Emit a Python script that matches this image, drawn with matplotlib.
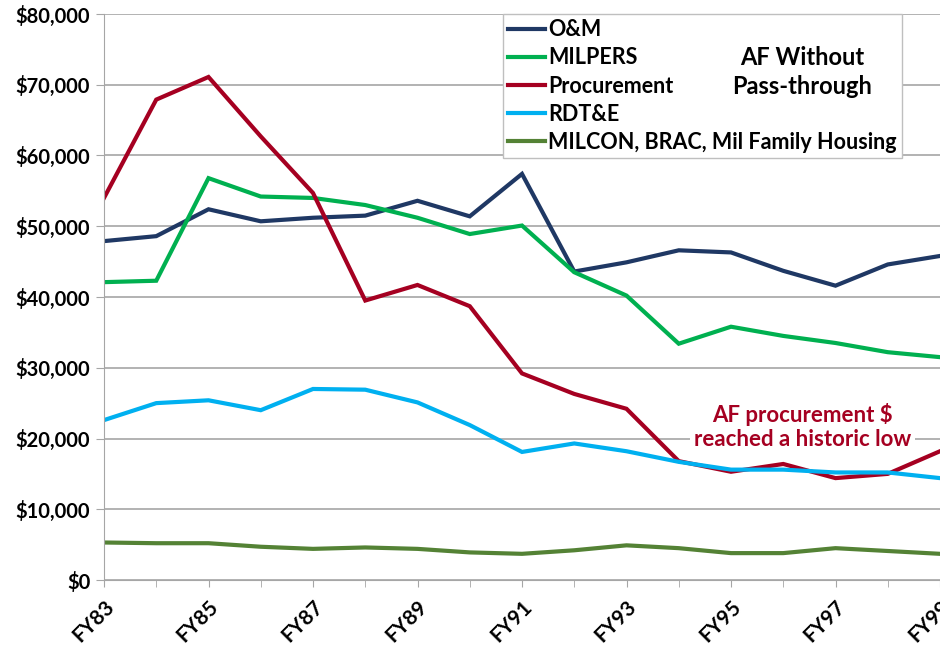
import matplotlib.pyplot as plt
import matplotlib.ticker as mticker

plt.rcParams['font.family'] = ['Lato', 'DejaVu Sans']
plt.rcParams['font.weight'] = 'bold'

# AF budget by appropriation, $M
years = ['FY83', 'FY84', 'FY85', 'FY86', 'FY87', 'FY88', 'FY89', 'FY90', 'FY91',
         'FY92', 'FY93', 'FY94', 'FY95', 'FY96', 'FY97', 'FY98', 'FY99']
om = [47900, 48600, 52400, 50700, 51200, 51500, 53600, 51400, 57400,
      43600, 44900, 46600, 46300, 43700, 41600, 44600, 45800]
milpers = [42100, 42300, 56800, 54200, 54000, 53000, 51200, 48900, 50100,
           43500, 40200, 33400, 35800, 34500, 33500, 32200, 31500]
procurement = [54000, 67900, 71100, 62700, 54700, 39500, 41700, 38700, 29200,
               26300, 24200, 16800, 15300, 16400, 14400, 15000, 18200]
rdte = [22600, 25000, 25400, 24000, 27000, 26900, 25100, 21900, 18100,
        19300, 18200, 16700, 15600, 15600, 15200, 15200, 14400]
milcon = [5300, 5200, 5200, 4700, 4400, 4600, 4400, 3900, 3700,
          4200, 4900, 4500, 3800, 3800, 4500, 4100, 3700]

series = [
    ('O&M', om, '#1F3864'),
    ('MILPERS', milpers, '#00B050'),
    ('Procurement', procurement, '#A50021'),
    ('RDT&E', rdte, '#00B0F0'),
    ('MILCON, BRAC, Mil Family Housing', milcon, '#548235'),
]

fig = plt.figure(figsize=(9.4, 6.51), dpi=100)
ax = fig.add_axes([104 / 940, 1 - 580 / 651, 836 / 940, 566 / 651])

x = list(range(len(years)))
for name, vals, col in series:
    ax.plot(x, vals, color=col, lw=3, label=name, solid_joinstyle='miter')

ax.set_xlim(0, 836 / 52.8)
ax.set_ylim(0, 80000)
ax.yaxis.set_major_locator(mticker.MultipleLocator(10000))
ax.yaxis.set_major_formatter(mticker.FuncFormatter(lambda v, p: '${:,.0f}'.format(v)))
ax.grid(axis='y', color='#A6A6A6', lw=1.2)
ax.set_axisbelow(True)

ax.set_xticks(x[::2])
ax.set_xticklabels(years[::2], rotation=45, ha='right', va='top', rotation_mode='anchor')
ax.set_xticks(x, minor=True)
ax.tick_params(axis='x', which='both', length=5, color='#A6A6A6', pad=7, labelsize=15)
ax.tick_params(axis='y', length=6, color='#A6A6A6', labelsize=14.5, pad=4)
for lab in ax.get_xticklabels() + ax.get_yticklabels():
    lab.set_fontweight('bold')

for s in ['top', 'right']:
    ax.spines[s].set_visible(False)
ax.spines['left'].set_color('#A6A6A6')
ax.spines['bottom'].set_color('#A6A6A6')

leg = fig.legend(loc='upper left', bbox_to_anchor=(503 / 940, 1 - 14 / 651),
                 frameon=True, fancybox=False, edgecolor='#BFBFBF', framealpha=1,
                 prop={'size': 15.5, 'weight': 'bold'}, handlelength=1.7,
                 handletextpad=0.15, labelspacing=0.33, borderpad=0.25,
                 borderaxespad=0)
leg.get_frame().set_linewidth(1)

fig.text(802 / 940, 1 - 72 / 651, 'AF Without\nPass-through', ha='center', va='center',
         fontsize=17, fontweight='bold', linespacing=1.35, zorder=10)

ax.text(13.37, 21700, 'AF procurement $\nreached a historic low', ha='center', va='center',
        fontsize=16, fontweight='bold', color='#A50021', linespacing=1.2,
        bbox=dict(facecolor='white', edgecolor='none', pad=3))

fig.savefig('out.png', dpi=100)
